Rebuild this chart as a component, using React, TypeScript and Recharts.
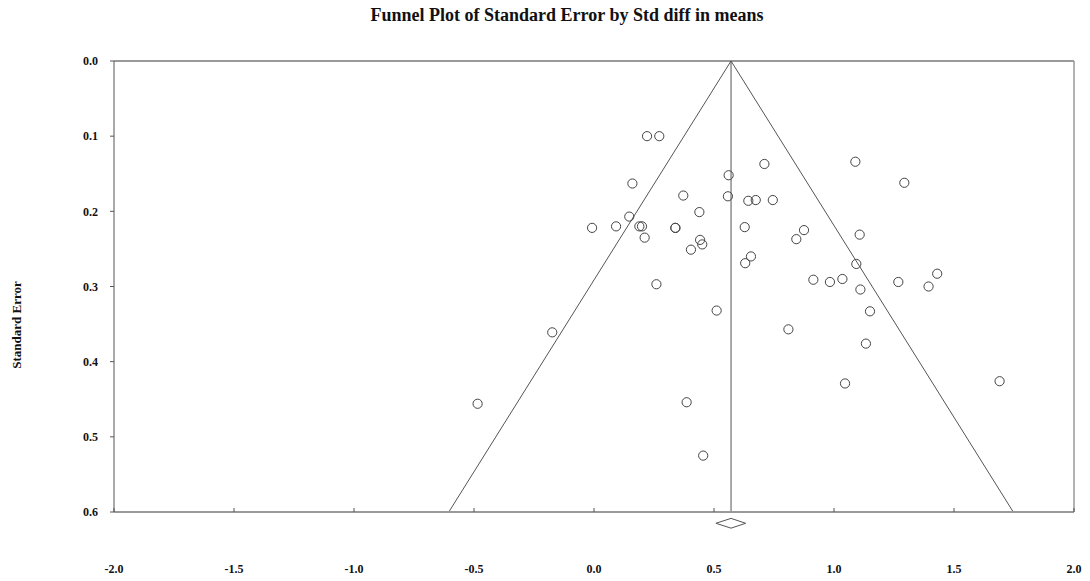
import React from "react";
import {
  ScatterChart,
  Scatter,
  XAxis,
  YAxis,
  ReferenceLine,
} from "recharts";

// Std diff in means for each study
const EFFECTS = [
  0.221, 0.272, 0.16, 0.561, 0.372, 0.558, 0.643, 0.674, 0.745, 0.439,
  0.147, -0.008, 0.092, 0.189, 0.2, 0.339, 0.339, 0.211, 0.628, 0.442,
  0.451, 0.404, 0.63, 0.654, 0.71, 1.089, 1.293, 0.875, 0.843, 1.107,
  1.093, 0.914, 0.983, 1.035, 1.11, 1.268, 1.394, 1.43, 1.15, 0.511,
  0.81, 1.133, 1.046, 1.69, 0.455, 0.26, -0.174, -0.485, 0.386,
];

// Standard error for each study, same order
const STD_ERRORS = [
  0.1, 0.1, 0.163, 0.152, 0.179, 0.18, 0.186, 0.185, 0.185, 0.201,
  0.207, 0.222, 0.22, 0.22, 0.22, 0.222, 0.222, 0.235, 0.221, 0.238,
  0.244, 0.251, 0.269, 0.26, 0.137, 0.134, 0.162, 0.225, 0.237, 0.231,
  0.27, 0.291, 0.294, 0.29, 0.304, 0.294, 0.3, 0.283, 0.333, 0.332,
  0.357, 0.376, 0.429, 0.426, 0.525, 0.297, 0.361, 0.456, 0.454,
];

const X_TICKS = [-2, -1.5, -1, -0.5, 0, 0.5, 1, 1.5, 2];
const Y_TICKS = [0, 0.1, 0.2, 0.3, 0.4, 0.5, 0.6];

// pooled estimate and its confidence interval (diamond)
const MEAN = 0.571;
const CI_LOW = 0.508;
const CI_HIGH = 0.632;
const SE_MAX = 0.6;
const DIAMOND_SE = 0.615;
const DIAMOND_HALF = 0.0065;

const FONT = '"Liberation Serif", "Times New Roman", serif';
const LINE = "#555";

const points = EFFECTS.map((x, i) => ({ x, y: STD_ERRORS[i] }));

function OpenCircle(props: any) {
  const { cx, cy } = props;
  return <circle cx={cx} cy={cy} r={4.6} fill="none" stroke="#444" strokeWidth={1} />;
}

function XTick(props: any) {
  const { x, y, payload } = props;
  return (
    <g>
      <line x1={x} x2={x} y1={y - 4} y2={y} stroke={LINE} />
      <text
        x={x}
        y={y + 58}
        textAnchor="middle"
        dominantBaseline="middle"
        fontSize={12}
        fontWeight="bold"
        fontFamily={FONT}
        fill="#111"
      >
        {payload.value.toFixed(1)}
      </text>
    </g>
  );
}

export default function App() {
  const funnelLeft = MEAN - 1.96 * SE_MAX;
  const funnelRight = MEAN + 1.96 * SE_MAX;

  return (
    <div style={{ position: "absolute", left: 0, top: 0, width: 1090, height: 581, background: "#fff" }}>
      <div
        style={{
          position: "absolute",
          left: 44,
          top: 5,
          width: 1046,
          textAlign: "center",
          fontFamily: FONT,
          fontWeight: "bold",
          fontSize: 18,
          color: "#111",
        }}
      >
        Funnel Plot of Standard Error by Std diff in means
      </div>
      <div
        style={{
          position: "absolute",
          left: 17,
          top: 325,
          transform: "translate(-50%, -50%) rotate(-90deg)",
          fontFamily: FONT,
          fontWeight: "bold",
          fontSize: 13,
          whiteSpace: "nowrap",
          color: "#111",
        }}
      >
        Standard Error
      </div>
      <ScatterChart
        width={1090}
        height={581}
        margin={{ top: 61, right: 16, bottom: 0, left: 0 }}
      >
        <XAxis
          type="number"
          dataKey="x"
          domain={[-2, 2]}
          ticks={X_TICKS}
          allowDataOverflow
          height={69}
          axisLine={{ stroke: "#999", strokeWidth: 2 }}
          tickLine={false}
          tickSize={0}
          tickMargin={0}
          tick={<XTick />}
          interval={0}
        />
        <YAxis
          type="number"
          dataKey="y"
          domain={[0, 0.6]}
          ticks={Y_TICKS}
          reversed
          allowDataOverflow
          width={114}
          axisLine={{ stroke: LINE, strokeWidth: 1 }}
          tickLine={{ stroke: LINE }}
          tickSize={4}
          tickMargin={12}
          interval={0}
          tickFormatter={(v: number) => v.toFixed(1)}
          tick={{ fontSize: 12, fontWeight: "bold", fontFamily: FONT, fill: "#111" }}
        />
        <ReferenceLine y={0} stroke="#999" strokeWidth={2} />
        <ReferenceLine x={2} stroke="#999" strokeWidth={1.5} />
        <ReferenceLine x={MEAN} stroke={LINE} />
        <ReferenceLine
          segment={[{ x: MEAN, y: 0 }, { x: funnelLeft, y: SE_MAX }]}
          stroke={LINE}
        />
        <ReferenceLine
          segment={[{ x: MEAN, y: 0 }, { x: funnelRight, y: SE_MAX }]}
          stroke={LINE}
        />
        <ReferenceLine
          ifOverflow="visible"
          segment={[{ x: CI_LOW, y: DIAMOND_SE }, { x: MEAN, y: DIAMOND_SE - DIAMOND_HALF }]}
          stroke={LINE}
        />
        <ReferenceLine
          ifOverflow="visible"
          segment={[{ x: MEAN, y: DIAMOND_SE - DIAMOND_HALF }, { x: CI_HIGH, y: DIAMOND_SE }]}
          stroke={LINE}
        />
        <ReferenceLine
          ifOverflow="visible"
          segment={[{ x: CI_HIGH, y: DIAMOND_SE }, { x: MEAN, y: DIAMOND_SE + DIAMOND_HALF }]}
          stroke={LINE}
        />
        <ReferenceLine
          ifOverflow="visible"
          segment={[{ x: MEAN, y: DIAMOND_SE + DIAMOND_HALF }, { x: CI_LOW, y: DIAMOND_SE }]}
          stroke={LINE}
        />
        <Scatter data={points} shape={<OpenCircle />} isAnimationActive={false} />
      </ScatterChart>
    </div>
  );
}
